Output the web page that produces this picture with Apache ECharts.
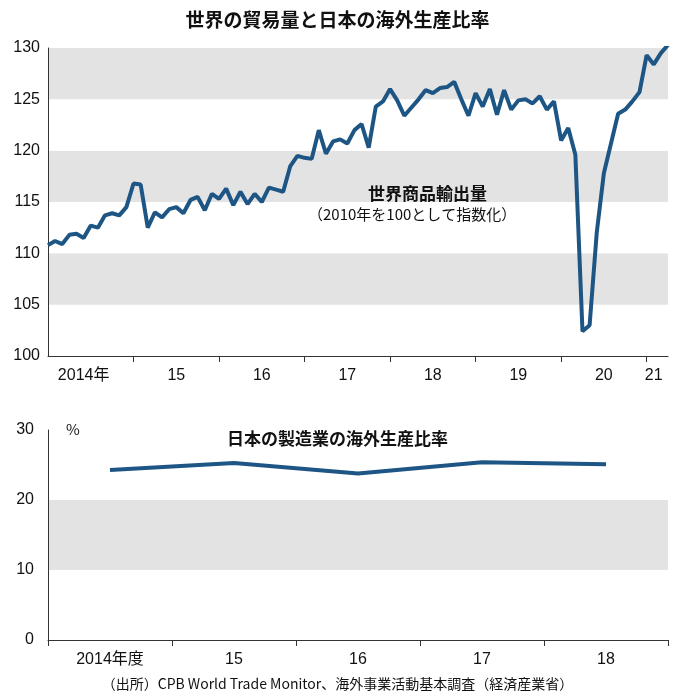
<!DOCTYPE html>
<html><head><meta charset="utf-8">
<script src="https://cdn.jsdelivr.net/npm/echarts@6/dist/echarts.min.js"></script>
<style>html,body{margin:0;padding:0;background:#fff}#c{width:675px;height:700px}</style>
</head><body><div id="c"></div>
<script>
const tradeVolume = [
110.8,111.2,110.9,111.8,111.9,111.5,112.7,112.5,113.7,113.9,113.7,114.5,
116.8,116.7,112.5,114.0,113.5,114.3,114.5,113.9,115.2,115.5,114.2,115.8,
115.3,116.3,114.7,116.0,114.8,115.8,115.0,116.4,116.2,116.0,118.5,119.5,
119.3,119.2,122.0,119.7,120.9,121.1,120.7,122.0,122.6,120.3,124.3,124.8,
126.0,124.9,123.4,124.2,125.0,125.9,125.6,126.1,126.2,126.7,125.0,123.4,
125.6,124.3,126.0,123.5,125.9,124.0,124.9,125.0,124.6,125.3,124.0,124.8,
121.0,122.2,119.6,102.4,103.0,112.0,117.8,120.7,123.6,124.0,124.8,125.7,
129.3,128.4,129.5,130.3];
const monthCats = tradeVolume.map((v,i)=>String(i));
const yearLabels = {5:'2014年',18:'15',30:'16',42:'17',54:'18',66:'19',78:'20',85:'21'};
const fyCats = ['2014年度','15','16','17','18'];
const overseasRatio = [24.3,25.3,23.8,25.4,25.1];

const lineColor = '#1d5584';
const bands = ['rgba(255,255,255,1)','#e3e3e3'];
const lbl = {color:'#111',fontSize:16,fontFamily:'Liberation Sans, Noto Sans CJK JP, sans-serif'};
const chart = echarts.init(document.getElementById('c'));
chart.setOption({
  animation:false,
  backgroundColor:'#fff',
  title:[
    {text:'世界の貿易量と日本の海外生産比率',left:'center',top:5,textStyle:{fontSize:19,fontWeight:'bold',color:'#111',fontFamily:'Noto Sans CJK JP'}},
    {text:'日本の製造業の海外生産比率',left:'center',top:425,textStyle:{fontSize:17,fontWeight:'bold',color:'#111',fontFamily:'Noto Sans CJK JP'}}
  ],
  graphic:[
    {type:'text',z:100,left:368,top:185,style:{text:'世界商品輸出量',fontSize:17,fontWeight:'bold',fontFamily:'Noto Sans CJK JP',fill:'#111'}},
    {type:'text',z:100,left:308,top:207,style:{text:'（2010年を100として指数化）',fontSize:15,fontFamily:'Noto Sans CJK JP',fill:'#111'}},
    {type:'text',z:100,left:66,top:422,style:{text:'%',fontSize:15,fontFamily:'Noto Sans CJK JP',fill:'#111'}},
    {type:'text',z:100,left:'center',top:677,style:{text:'（出所）CPB World Trade Monitor、海外事業活動基本調査（経済産業省）',fontSize:14,fontFamily:'Noto Sans CJK JP',fill:'#111'}}
  ],
  grid:[
    {left:48,right:7,top:48,height:308},
    {left:48,right:7,top:430,height:210}
  ],
  xAxis:[
    {gridIndex:0,type:'category',data:monthCats,boundaryGap:false,
     axisLine:{lineStyle:{color:'#333'}},
     axisTick:{show:true,length:6,lineStyle:{color:'#333'},interval:(i)=>i>0&&i%12===0},
     axisLabel:Object.assign({},lbl,{interval:(i)=>yearLabels[i]!==undefined,formatter:(v,i)=>yearLabels[i]||'',margin:12})},
    {gridIndex:1,type:'category',data:fyCats,boundaryGap:true,
     axisLine:{lineStyle:{color:'#333'}},
     axisTick:{show:true,length:6,lineStyle:{color:'#333'},interval:0},
     axisLabel:Object.assign({},lbl,{margin:12})}
  ],
  yAxis:[
    {gridIndex:0,type:'value',min:100,max:130,interval:5,
     axisLine:{show:true,lineStyle:{color:'#333'}},axisTick:{show:false},
     splitLine:{show:false},splitArea:{show:true,areaStyle:{color:bands}},
     axisLabel:Object.assign({},lbl,{margin:8})},
    {gridIndex:1,type:'value',min:0,max:30,interval:10,
     axisLine:{show:true,lineStyle:{color:'#333'}},axisTick:{show:false},
     splitLine:{show:false},splitArea:{show:true,areaStyle:{color:bands}},
     axisLabel:Object.assign({},lbl,{margin:14})}
  ],
  series:[
    {type:'line',xAxisIndex:0,yAxisIndex:0,data:tradeVolume,showSymbol:false,lineStyle:{color:lineColor,width:4},itemStyle:{color:lineColor}},
    {type:'line',xAxisIndex:1,yAxisIndex:1,data:overseasRatio,showSymbol:false,lineStyle:{color:lineColor,width:4},itemStyle:{color:lineColor}}
  ]
});
</script></body></html>
